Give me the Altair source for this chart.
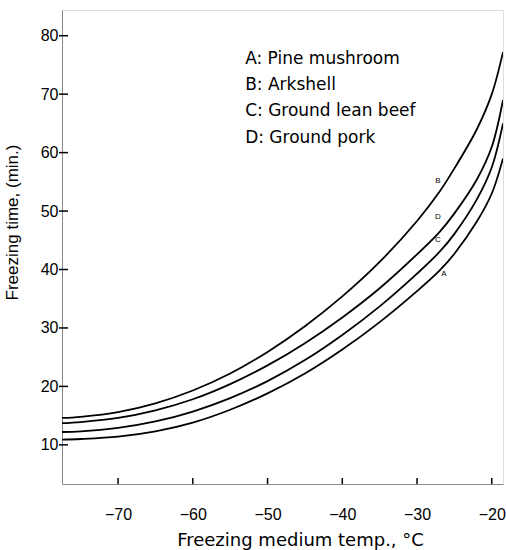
import altair as alt
import pandas as pd

# ---- data ----
temps = [-77.5, -75, -70, -65, -60, -55, -50, -45, -40, -35, -30, -27, -25, -22, -20, -18.5]
curve_A = [10.9, 11.0, 11.4, 12.3, 13.8, 16.0, 18.8, 22.2, 26.3, 31.0, 36.3, 39.8, 42.7, 48.2, 53.0, 59.0]
curve_B = [14.6, 14.8, 15.6, 17.1, 19.3, 22.2, 25.9, 30.3, 35.4, 41.3, 48.3, 53.3, 57.3, 64.0, 70.0, 77.2]
curve_C = [12.2, 12.3, 12.9, 14.0, 15.7, 18.0, 20.9, 24.5, 28.8, 33.7, 39.3, 43.0, 46.1, 52.0, 57.5, 65.0]
curve_D = [13.7, 13.9, 14.6, 15.9, 17.8, 20.4, 23.6, 27.4, 31.8, 36.8, 42.6, 46.4, 49.6, 55.4, 61.0, 69.0]

curve_letters = ["B", "D", "C", "A"]
curve_label_x = [-27.2, -27.2, -27.2, -26.4]
curve_label_y = [55.2, 48.9, 45.0, 39.3]

legend_lines = ["A: Pine mushroom", "B: Arkshell", "C: Ground lean beef", "D: Ground pork"]
legend_x = [-53.0, -53.0, -53.0, -53.0]
legend_y = [76.0, 71.6, 67.1, 62.5]

x_ticks = [-70, -60, -50, -40, -30, -20]
y_ticks = [10, 20, 30, 40, 50, 60, 70, 80]
x_domain = [-77.5, -18.5]
y_domain = [3.3, 84.4]

W, H = 441, 474

rows = []
for name, vals in [("A", curve_A), ("B", curve_B), ("C", curve_C), ("D", curve_D)]:
    for t, v in zip(temps, vals):
        rows.append({"series": name, "temp": t, "time": v})
df = pd.DataFrame(rows)

xs = alt.Scale(domain=x_domain, nice=False, zero=False)
ys = alt.Scale(domain=y_domain, nice=False, zero=False)

lines = alt.Chart(df).mark_line(interpolate="catmull-rom", color="black", strokeWidth=1.8, clip=True).encode(
    x=alt.X("temp:Q", scale=xs,
            axis=alt.Axis(values=x_ticks, title="Freezing medium temp., °C", tickSize=0,
                          labelPadding=22, labelFontSize=16, titleFontSize=18,
                          titleFont="DejaVu Sans",
                          titleFontWeight="normal", grid=False,
                          titleX=238, titleY=56, titleBaseline="middle", labelFlush=False)),
    y=alt.Y("time:Q", scale=ys,
            axis=alt.Axis(values=y_ticks, title="Freezing time, (min.)", tickSize=0,
                          labelPadding=4, labelFontSize=16, titleFontSize=17,
                          titleFontWeight="normal", grid=False, titleX=-41, titleY=212,
                          labelFlush=False)),
    detail="series:N",
)

lab_df = pd.DataFrame({"t": curve_letters, "x": curve_label_x, "y": curve_label_y})
curve_labels = alt.Chart(lab_df).mark_text(fontSize=8, font="Liberation Sans", align="center",
                                           baseline="middle", color="black").encode(
    x=alt.X("x:Q", scale=xs), y=alt.Y("y:Q", scale=ys), text="t:N")

leg_df = pd.DataFrame({"t": legend_lines, "x": legend_x, "y": legend_y})
legend = alt.Chart(leg_df).mark_text(fontSize=17, font="DejaVu Sans", align="left",
                                     baseline="middle", color="black").encode(
    x=alt.X("x:Q", scale=xs), y=alt.Y("y:Q", scale=ys), text="t:N")

xt = alt.Chart(pd.DataFrame({"v": x_ticks})).mark_rule(color="black", strokeWidth=1.5).encode(
    x=alt.X("v:Q", scale=xs), y=alt.value(H), y2=alt.value(H - 6))
yt = alt.Chart(pd.DataFrame({"v": y_ticks})).mark_rule(color="black", strokeWidth=1.5).encode(
    y=alt.Y("v:Q", scale=ys), x=alt.value(-3), x2=alt.value(6))

chart = alt.layer(lines, curve_labels, legend, xt, yt).properties(
    width=W, height=H,
    padding={"left": 62, "top": 10, "right": 3, "bottom": 66},
    autosize=alt.AutoSizeParams(type="none"),
).configure_view(stroke="black", strokeWidth=1.8).configure_axis(
    domainColor="black", domainWidth=1.8, labelColor="black", titleColor="black",
    labelFont="Liberation Sans", titleFont="Liberation Sans",
).configure(background="white")

chart.save("out.html", embed_options={"renderer": "svg", "actions": False})
